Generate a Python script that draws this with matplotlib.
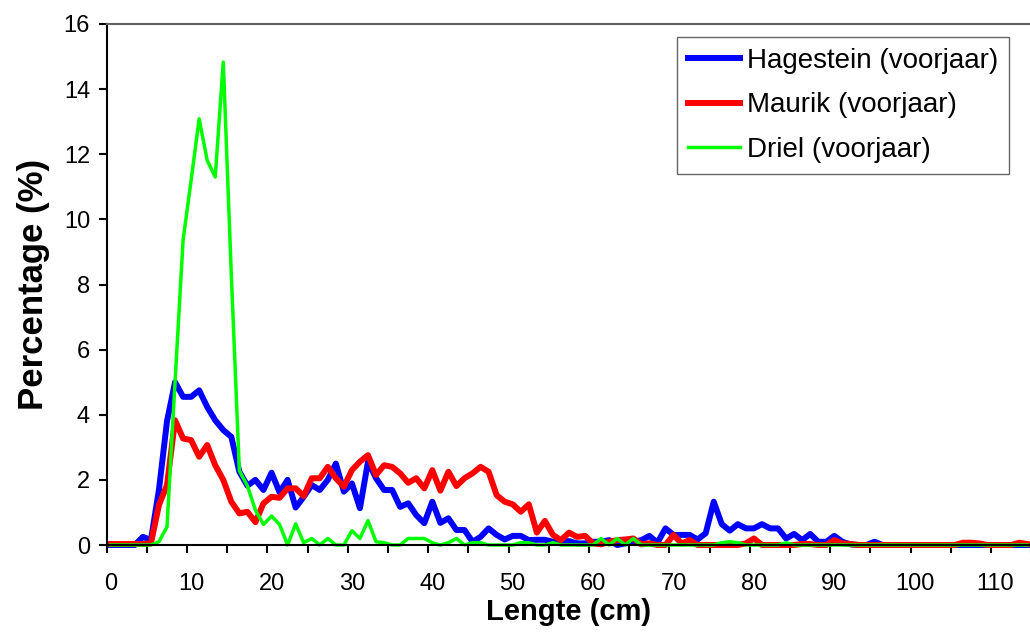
import numpy as np
import matplotlib
matplotlib.use("Agg")
import matplotlib.pyplot as plt

plt.rcParams['font.family'] = ['Liberation Sans', 'DejaVu Sans']

# lengteklassen (cm), 0..114
lengte = np.arange(115)

# Hagestein (voorjaar), percentages per cm
hagestein = [0, 0, 0, 0, 0.25, 0.15, 1.7, 3.8, 5.0, 4.55,
             4.55, 4.75, 4.24, 3.83, 3.53, 3.32, 2.25, 1.82, 2.0, 1.69,
             2.22, 1.62, 2.0, 1.15, 1.48, 1.84, 1.69, 2.0, 2.5, 1.64,
             1.89, 1.13, 2.56, 2.05, 1.69, 1.69, 1.17, 1.28, 0.92, 0.67,
             1.33, 0.68, 0.82, 0.46, 0.46, 0.1, 0.25, 0.51, 0.31, 0.17,
             0.28, 0.28, 0.15, 0.16, 0.16, 0.1, 0.1, 0.12, 0.05, 0.05,
             0.1, 0.1, 0.15, 0, 0.05, 0.1, 0.15, 0.28, 0.07, 0.51,
             0.31, 0.31, 0.31, 0.17, 0.36, 1.33, 0.64, 0.44, 0.64, 0.51,
             0.51, 0.64, 0.51, 0.51, 0.2, 0.34, 0.15, 0.34, 0.1, 0.1,
             0.28, 0.1, 0.02, 0, 0, 0.1, 0, 0, 0, 0,
             0, 0, 0, 0, 0, 0, 0, 0, 0, 0,
             0, 0, 0, 0, 0]

# Maurik (voorjaar)
maurik = [0.03, 0.03, 0.03, 0.03, 0.03, 0.05, 1.23, 1.84, 3.83, 3.27,
          3.22, 2.71, 3.07, 2.45, 2.0, 1.33, 0.97, 1.02, 0.7, 1.28,
          1.48, 1.45, 1.74, 1.74, 1.5, 2.05, 2.05, 2.4, 2.05, 1.79,
          2.3, 2.56, 2.76, 2.15, 2.45, 2.4, 2.2, 1.91, 2.05, 1.74,
          2.3, 1.67, 2.25, 1.81, 2.05, 2.2, 2.4, 2.25, 1.53, 1.33,
          1.25, 1.02, 1.25, 0.38, 0.74, 0.31, 0.15, 0.38, 0.25, 0.28,
          0.05, 0.02, 0.1, 0.15, 0.17, 0.2, 0.02, 0.05, 0, 0,
          0.31, 0.05, 0.15, 0, 0, 0, 0, 0, 0, 0.05,
          0.2, 0, 0, 0, 0, 0, 0.03, 0.03, 0, 0,
          0.15, 0.05, 0.03, 0, 0, 0, 0, 0, 0, 0,
          0, 0, 0, 0, 0, 0, 0.07, 0.07, 0.05, 0,
          0, 0, 0, 0.07, 0.03]

# Driel (voorjaar)
driel = [0, 0, 0, 0, 0, 0, 0.1, 0.56, 5.0, 9.36,
         11.2, 13.09, 11.81, 11.3, 14.83, 8.3, 2.28, 1.82, 1.07, 0.63,
         0.89, 0.63, 0, 0.65, 0.07, 0.2, 0, 0.2, 0, 0,
         0.44, 0.2, 0.75, 0.1, 0.07, 0, 0, 0.2, 0.2, 0.2,
         0.07, 0, 0.07, 0.2, 0, 0.07, 0.07, 0, 0, 0,
         0, 0.07, 0.07, 0, 0, 0.07, 0, 0, 0, 0,
         0, 0.2, 0, 0.2, 0, 0.2, 0, 0, 0, 0,
         0, 0, 0, 0, 0, 0, 0.07, 0.1, 0.07, 0,
         0, 0, 0, 0, 0.07, 0, 0, 0, 0, 0,
         0, 0, 0, 0, 0, 0, 0, 0, 0, 0,
         0, 0, 0, 0, 0, 0, 0, 0, 0, 0,
         0, 0, 0, 0, 0]

labels = ['Hagestein (voorjaar)', 'Maurik (voorjaar)', 'Driel (voorjaar)']

W, H = 1030, 632
fig = plt.figure(figsize=(W / 100, H / 100), dpi=100)
ax = fig.add_axes([106.7 / W, 87 / H, (1031.3 - 106.7) / W, 521 / H])

ax.plot(lengte, hagestein, color='#0000FF', lw=4.3, label=labels[0], clip_on=False)
ax.plot(lengte, maurik, color='#FF0000', lw=4.3, label=labels[1], clip_on=False)
ax.plot(lengte, driel, color='#00FF00', lw=2.5, label=labels[2], clip_on=False)

ax.set_xlim(-0.5, 114.5)
ax.set_ylim(0, 16)

# tick marks between categories, labels centred on categories
ax.set_xticks(np.arange(-0.5, 115, 5))
ax.set_xticklabels([])
ax.set_xticks(np.arange(0, 111, 10), minor=True)
ax.set_xticklabels([str(v) for v in range(0, 111, 10)], minor=True)
ax.tick_params(axis='x', which='major', direction='out', length=6, width=1.5)
ax.tick_params(axis='x', which='minor', length=0, labelsize=17, pad=20)
ax.set_yticks(np.arange(0, 17, 2))
ax.tick_params(axis='y', direction='out', length=6, width=1.5, labelsize=17, pad=6)

for s in ['left', 'bottom']:
    ax.spines[s].set_linewidth(1.5)
ax.spines['top'].set_color('#606060')
ax.spines['top'].set_linewidth(1.5)
ax.spines['right'].set_visible(False)

ax.set_xlabel('Lengte (cm)', fontsize=21, fontweight='bold', labelpad=2)
ax.set_ylabel('Percentage (%)', fontsize=25, fontweight='bold', labelpad=10)

leg = ax.legend(loc='upper right', bbox_to_anchor=(1009 / W, 1 - 36.7 / H),
                bbox_transform=fig.transFigure, borderaxespad=0,
                fontsize=20, frameon=True, fancybox=False, handlelength=1.87,
                handletextpad=0.25, labelspacing=0.67, borderpad=0.4)
leg.get_frame().set_edgecolor('#404040')
leg.get_frame().set_linewidth(1.0)

fig.savefig('out.png', dpi=100)
